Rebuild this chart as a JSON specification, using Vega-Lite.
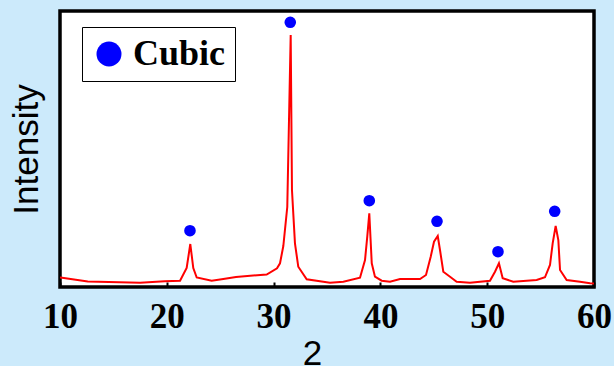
{
  "$schema": "https://vega.github.io/schema/vega-lite/v6.json",
  "width": 534,
  "height": 276,
  "autosize": {"type": "none"},
  "padding": {"left": 60, "top": 11, "right": 20, "bottom": 79},
  "background": "#cceafb",
  "config": {"view": {"fill": "white", "stroke": "black", "strokeWidth": 3.5}},
  "datasets": {
    "pattern": [
      {"two_theta": 10.0, "intensity": 9.5},
      {"two_theta": 10.2, "intensity": 9.3},
      {"two_theta": 12.6, "intensity": 5.5},
      {"two_theta": 17.5, "intensity": 4.3},
      {"two_theta": 19.8, "intensity": 5.7},
      {"two_theta": 21.24, "intensity": 6.3},
      {"two_theta": 21.86, "intensity": 19},
      {"two_theta": 22.2, "intensity": 43},
      {"two_theta": 22.48, "intensity": 19},
      {"two_theta": 22.8, "intensity": 9.5},
      {"two_theta": 24.2, "intensity": 6.3},
      {"two_theta": 25.14, "intensity": 7.7},
      {"two_theta": 26.48, "intensity": 10},
      {"two_theta": 29.35, "intensity": 12.5},
      {"two_theta": 30.32, "intensity": 18.7},
      {"two_theta": 30.6, "intensity": 23.7},
      {"two_theta": 30.91, "intensity": 41},
      {"two_theta": 31.28, "intensity": 80},
      {"two_theta": 31.6, "intensity": 252},
      {"two_theta": 31.72, "intensity": 97},
      {"two_theta": 32.0, "intensity": 43.7},
      {"two_theta": 32.31, "intensity": 20.3},
      {"two_theta": 33.1, "intensity": 7.7},
      {"two_theta": 35.28, "intensity": 4.3},
      {"two_theta": 36.53, "intensity": 5.3},
      {"two_theta": 38.09, "intensity": 9.3},
      {"two_theta": 38.56, "intensity": 27},
      {"two_theta": 38.77, "intensity": 50.3},
      {"two_theta": 38.96, "intensity": 73.7},
      {"two_theta": 39.19, "intensity": 23.7},
      {"two_theta": 39.49, "intensity": 10.3},
      {"two_theta": 40.12, "intensity": 6.3},
      {"two_theta": 40.9, "intensity": 5.3},
      {"two_theta": 41.84, "intensity": 8},
      {"two_theta": 43.71, "intensity": 8},
      {"two_theta": 44.27, "intensity": 12},
      {"two_theta": 44.71, "intensity": 30.3},
      {"two_theta": 45.02, "intensity": 45.3},
      {"two_theta": 45.37, "intensity": 51},
      {"two_theta": 45.58, "intensity": 37},
      {"two_theta": 45.89, "intensity": 15.3},
      {"two_theta": 46.52, "intensity": 10.3},
      {"two_theta": 47.14, "intensity": 5.3},
      {"two_theta": 48.39, "intensity": 4.3},
      {"two_theta": 50.26, "intensity": 6.3},
      {"two_theta": 50.73, "intensity": 15.3},
      {"two_theta": 51.1, "intensity": 23.7},
      {"two_theta": 51.45, "intensity": 8.7},
      {"two_theta": 52.44, "intensity": 5.3},
      {"two_theta": 54.63, "intensity": 7},
      {"two_theta": 55.41, "intensity": 9.7},
      {"two_theta": 55.88, "intensity": 22},
      {"two_theta": 56.13, "intensity": 43.7},
      {"two_theta": 56.41, "intensity": 61},
      {"two_theta": 56.66, "intensity": 47},
      {"two_theta": 56.82, "intensity": 17},
      {"two_theta": 57.44, "intensity": 7},
      {"two_theta": 58.69, "intensity": 5.3},
      {"two_theta": 59.63, "intensity": 3.7},
      {"two_theta": 60.0, "intensity": 3.5}
    ],
    "peaks": [
      {"two_theta": 22.17, "intensity": 56.3, "phase": "Cubic"},
      {"two_theta": 31.56, "intensity": 264.7, "phase": "Cubic"},
      {"two_theta": 38.96, "intensity": 86.3, "phase": "Cubic"},
      {"two_theta": 45.3, "intensity": 65.7, "phase": "Cubic"},
      {"two_theta": 51.01, "intensity": 35.3, "phase": "Cubic"},
      {"two_theta": 56.32, "intensity": 75.7, "phase": "Cubic"}
    ]
  },
  "layer": [
    {
      "data": {"name": "pattern"},
      "mark": {"type": "line", "color": "red", "strokeWidth": 2, "clip": true},
      "encoding": {
        "x": {
          "field": "two_theta", "type": "quantitative",
          "scale": {"domain": [10, 60], "nice": false},
          "axis": {
            "title": "2", "values": [10, 20, 30, 40, 50, 60],
            "domain": false, "grid": false,
            "tickSize": -5, "tickWidth": 2, "tickColor": "black",
            "labelFont": "Liberation Serif", "labelFontSize": 35, "labelFontWeight": "bold",
            "labelColor": "black", "labelPadding": 45, "labelBaseline": "alphabetic",
            "labelFlush": false, "labelOverlap": false,
            "titleFont": "Liberation Sans", "titleFontSize": 35, "titleFontWeight": "normal",
            "titleColor": "black", "titleX": 252, "titleY": 77, "titleAlign": "center",
            "titleBaseline": "alphabetic"
          }
        },
        "y": {
          "field": "intensity", "type": "quantitative",
          "scale": {"domain": [0, 276], "nice": false},
          "axis": {
            "title": "Intensity", "labels": false, "ticks": false, "domain": false, "grid": false,
            "titleFont": "Liberation Sans", "titleFontSize": 35, "titleFontWeight": "normal",
            "titleColor": "black", "titlePadding": 16
          }
        }
      }
    },
    {
      "data": {"name": "peaks"},
      "mark": {"type": "point", "filled": true, "size": 135, "opacity": 1, "shape": "circle"},
      "encoding": {
        "x": {"field": "two_theta", "type": "quantitative"},
        "y": {"field": "intensity", "type": "quantitative"},
        "color": {
          "field": "phase", "type": "nominal",
          "scale": {"range": ["#0000ff"]},
          "legend": {
            "title": null, "orient": "none", "legendX": 22, "legendY": 16,
            "symbolType": "circle", "symbolSize": 625, "symbolOpacity": 1, "symbolStrokeWidth": 0,
            "labelFont": "Liberation Serif", "labelFontSize": 36, "labelFontWeight": "bold",
            "labelColor": "black", "labelOffset": 6, "padding": 9,
            "strokeColor": "black", "fillColor": "white"
          }
        }
      }
    }
  ]
}
